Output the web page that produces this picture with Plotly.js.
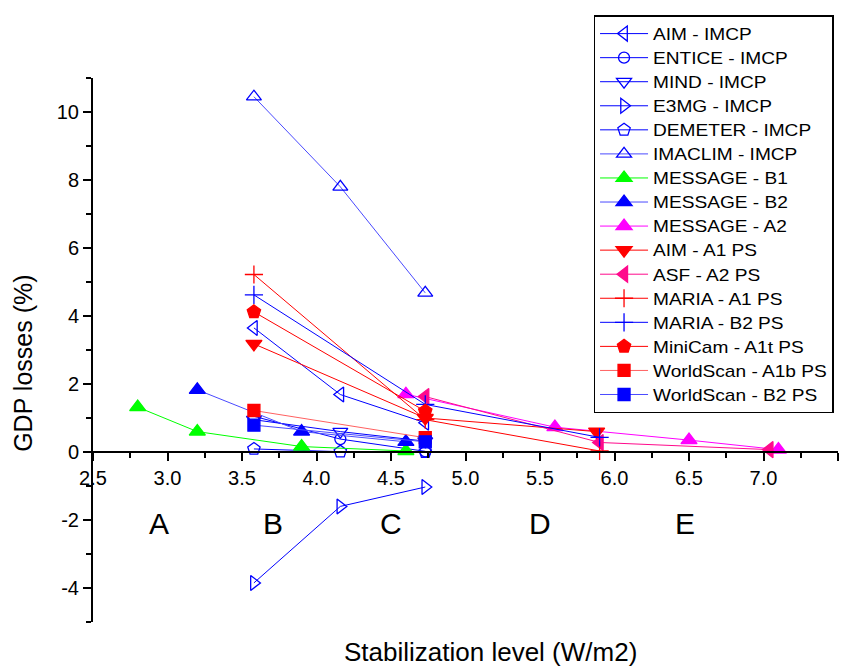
<!DOCTYPE html>
<html>
<head>
<meta charset="utf-8">
<script src="https://cdn.plot.ly/plotly-3.0.1.min.js"></script>
<style>
html,body{margin:0;padding:0;background:#fff}
#chart{width:850px;height:666px}
.legendtext{transform:scaleX(1.18);transform-box:fill-box;transform-origin:0 50%}
</style>
</head>
<body>
<div id="chart"></div>
<script>
// ---- data ----
const xImcp = [3.58, 4.16, 4.73];
const aimImcp = [3.65, 1.69, 0.86];
const enticeImcp = [1.05, 0.38, 0.02];
const mindImcp = [0.95, 0.6, 0.32];
const xE3mg = [3.58, 4.16, 4.73];
const e3mgImcp = [-3.85, -1.6, -1.03];
const demeterImcp = [0.09, 0.01, 0.0];
const imaclimImcp = [10.45, 7.8, 4.68];

const xMsgB1 = [2.8, 3.2, 3.9, 4.6];
const msgB1 = [1.32, 0.6, 0.16, 0.03];
const xMsgB2 = [3.2, 3.9, 4.6];
const msgB2 = [1.83, 0.6, 0.3];
const xMsgA2 = [4.6, 5.6, 6.5, 7.1];
const msgA2 = [1.7, 0.73, 0.35, 0.07];

const xAimA1 = [3.58, 4.73, 5.88];
const aimA1 = [3.18, 1.0, 0.6];
const xAsfA2 = [4.73, 5.9, 7.04];
const asfA2 = [1.63, 0.28, 0.07];
const xMariaA1 = [3.58, 4.73, 5.9];
const mariaA1 = [5.22, 0.95, 0.03];
const xMariaB2 = [3.58, 4.73, 5.9];
const mariaB2 = [4.62, 1.4, 0.43];
const xMiniCam = [3.58, 4.73];
const miniCam = [4.12, 1.2];
const xWorldScan = [3.58, 4.73];
const worldScanA1b = [1.22, 0.42];
const worldScanB2 = [0.79, 0.3];

const seriesNames = ["AIM - IMCP","ENTICE - IMCP","MIND - IMCP","E3MG - IMCP","DEMETER - IMCP","IMACLIM - IMCP",
  "MESSAGE - B1","MESSAGE - B2","MESSAGE - A2","AIM - A1 PS","ASF - A2 PS","MARIA - A1 PS","MARIA - B2 PS",
  "MiniCam - A1t PS","WorldScan - A1b PS","WorldScan - B2 PS"];
const regionLabels = ["A","B","C","D","E"];
const regionX = [2.94, 3.71, 4.5, 5.5, 6.47];
const yTickVals = [-4, -2, 0, 2, 4, 6, 8, 10];
const yTickText = ["-4", "-2", "0", "2", "4", "6", "8", "10"];

// ---- styling ----
function tr(name, x, y, sym, col, lineCol, size, openLine) {
  return {
    type: 'scatter', mode: 'lines+markers', name: name, x: x, y: y,
    line: {color: lineCol || col, width: 1},
    marker: {symbol: sym, size: size || 12, color: col,
      line: {color: col, width: openLine || 1.3}},
    cliponaxis: false
  };
}
const BLUE = '#0000ff', LBLUE = '#4a4aff', RED = '#ff0000', LRED = '#ff6060',
      GREEN = '#00ff00', MAG = '#ff00ff', DPINK = '#ff0a8c';

const traces = [
  tr(seriesNames[0], xImcp, aimImcp, 'triangle-left-open', BLUE, BLUE, 13),
  tr(seriesNames[1], xImcp, enticeImcp, 'circle-open', BLUE, BLUE, 11),
  tr(seriesNames[2], xImcp, mindImcp, 'triangle-down-open', BLUE, BLUE, 13),
  tr(seriesNames[3], xE3mg, e3mgImcp, 'triangle-right-open', BLUE, BLUE, 13),
  tr(seriesNames[4], xImcp, demeterImcp, 'pentagon-open', BLUE, BLUE, 13),
  tr(seriesNames[5], xImcp, imaclimImcp, 'triangle-up-open', BLUE, LBLUE, 13),
  tr(seriesNames[6], xMsgB1, msgB1, 'triangle-up', GREEN, GREEN, 14),
  tr(seriesNames[7], xMsgB2, msgB2, 'triangle-up', BLUE, LBLUE, 14),
  tr(seriesNames[8], xMsgA2, msgA2, 'triangle-up', MAG, MAG, 14),
  tr(seriesNames[9], xAimA1, aimA1, 'triangle-down', RED, RED, 14),
  tr(seriesNames[10], xAsfA2, asfA2, 'triangle-left', DPINK, DPINK, 14),
  tr(seriesNames[11], xMariaA1, mariaA1, 'cross-thin-open', RED, RED, 13, 1.3),
  tr(seriesNames[12], xMariaB2, mariaB2, 'cross-thin-open', BLUE, BLUE, 13, 1.3),
  tr(seriesNames[13], xMiniCam, miniCam, 'pentagon', RED, RED, 14),
  tr(seriesNames[14], xWorldScan, worldScanA1b, 'square', RED, LRED, 12),
  tr(seriesNames[15], xWorldScan, worldScanB2, 'square', BLUE, LBLUE, 12)
];

const FONT = 'Liberation Sans, Arial, sans-serif';
const annotations = regionLabels.map((t, i) => ({
  text: t, x: regionX[i], y: -2.1, xref: 'x', yref: 'y', showarrow: false,
  xanchor: 'center', yanchor: 'middle',
  font: {family: FONT, size: 30, color: '#000'}
}));
annotations.push({text: 'Stabilization level (W/m2)', xref: 'paper', yref: 'paper',
  x: 0.534, y: -0.055, xanchor: 'center', yanchor: 'middle', showarrow: false,
  font: {family: FONT, size: 26, color: '#000'}});
annotations.push({text: 'GDP losses (%)', xref: 'paper', yref: 'paper', textangle: -90,
  x: -0.095, y: 0.475, xanchor: 'center', yanchor: 'middle', showarrow: false,
  font: {family: FONT, size: 25, color: '#000'}});

const layout = {
  width: 850, height: 666,
  margin: {l: 93, r: 12, t: 78, b: 44},
  paper_bgcolor: '#fff', plot_bgcolor: '#fff',
  font: {family: FONT, color: '#000'},
  showlegend: true,
  legend: {x: 0.672, y: 1.1155, xanchor: 'left', yanchor: 'top',
    bgcolor: '#fff', bordercolor: '#000', borderwidth: 1.4,
    font: {family: FONT, size: 16.2, color: '#000'}, itemwidth: 48,
    tracegroupgap: 0, maxheight: 600},
  xaxis: {range: [2.5, 7.5], anchor: 'free', position: 5/16,
    showline: true, linecolor: '#000', linewidth: 2, showgrid: false, zeroline: false,
    ticks: 'outside', ticklen: 8, tickwidth: 2, tickcolor: '#000', dtick: 0.5, tick0: 2.5,
    tickformat: '.1f', tickfont: {family: FONT, size: 20, color: '#000'},
    minor: {dtick: 0.25, ticks: 'outside', ticklen: 5, tickwidth: 2, tickcolor: '#000', showgrid: false}},
  yaxis: {range: [-5, 11], showline: true, linecolor: '#000', linewidth: 2, showgrid: false, zeroline: false,
    ticks: 'outside', ticklen: 8, tickwidth: 2, tickcolor: '#000',
    tickmode: 'array', tickvals: yTickVals, ticktext: yTickText,
    tickfont: {family: FONT, size: 20, color: '#000'},
    minor: {tickmode: 'linear', dtick: 1, tick0: 0, ticks: 'outside', ticklen: 5, tickwidth: 2, tickcolor: '#000', showgrid: false}},
  annotations: annotations
};

Plotly.newPlot('chart', traces, layout, {displayModeBar: false, staticPlot: true});
</script>
</body>
</html>
